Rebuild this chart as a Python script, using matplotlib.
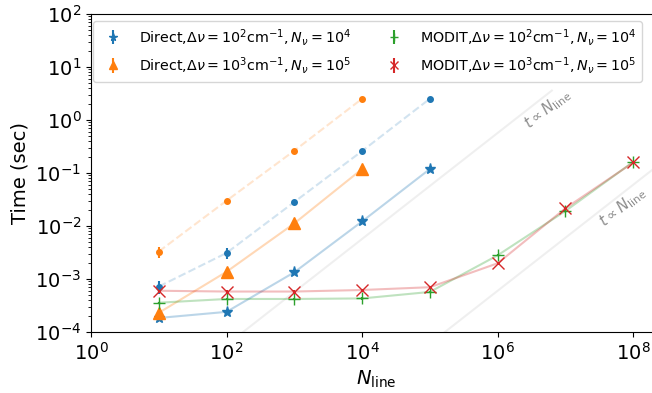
import numpy as np
import matplotlib.pyplot as plt

nline = [1e1, 1e2, 1e3, 1e4, 1e5, 1e6, 1e7, 1e8]

# direct, dnu=1e2 (N_nu=1e4): stars = precomputed, dots = full
direct2 = [1.84e-4, 2.4e-4, 1.34e-3, 1.22e-2, 0.119]
direct2_all = [7.2e-4, 3.1e-3, 2.84e-2, 0.26, 2.52]
direct2_all_err = [2.0e-4, 7.0e-4, 1.0e-3, 5.0e-3, 2.0e-2]
# direct, dnu=1e3 (N_nu=1e5)
direct3 = [2.3e-4, 1.37e-3, 1.12e-2, 0.119]
direct3_all = [3.3e-3, 3.0e-2, 0.264, 2.52]
direct3_all_err = [8.0e-4, 1.0e-3, 3.0e-3, 2.0e-2]
# modit
modit2 = [3.57e-4, 4.2e-4, 4.2e-4, 4.3e-4, 5.7e-4, 2.8e-3, 1.92e-2, 0.162]
modit3 = [6.0e-4, 5.8e-4, 5.8e-4, 6.2e-4, 7.0e-4, 1.98e-3, 2.16e-2, 0.158]

lab_d2 = r"Direct,$\Delta \nu=10^2 {\rm cm}^{-1}, N_\nu=10^4$"
lab_d3 = r"Direct,$\Delta \nu=10^3 {\rm cm}^{-1}, N_\nu=10^5$"
lab_m2 = r"MODIT,$\Delta \nu=10^2 {\rm cm}^{-1}, N_\nu=10^4$"
lab_m3 = r"MODIT,$\Delta \nu=10^3 {\rm cm}^{-1}, N_\nu=10^5$"

fig = plt.figure(figsize=(6.52, 3.93), dpi=100)
ax = fig.add_axes([91/652, 61/393, 570/652, 318/393])

# reference slopes t ~ N_line
nref1 = np.array([1.0, 6.3e6])
nref2 = np.array([1.0, 3e8])
ax.plot(nref1, 5.7e-7*nref1, color="gray", alpha=0.12, lw=1.5)
ax.plot(nref2, 6.0e-10*nref2, color="gray", alpha=0.12, lw=1.5)
ax.text(5.4e6, 1.6, r"$t \propto N_{\rm line}$", color="gray", rotation=38,
        fontsize=10.8, ha="center", va="center", alpha=0.9)
ax.text(6.9e7, 0.023, r"$t \propto N_{\rm line}$", color="gray", rotation=38,
        fontsize=10.8, ha="center", va="center", alpha=0.9)

x2 = nline[:5]
x3 = nline[:4]
ax.plot(x2, direct2_all, ls="--", color="C0", alpha=0.2, lw=1.5)
ax.errorbar(x2, direct2_all, yerr=direct2_all_err, fmt="o", color="C0", ms=4)
ax.plot(x3, direct3_all, ls="--", color="C1", alpha=0.2, lw=1.5)
ax.errorbar(x3, direct3_all, yerr=direct3_all_err, fmt="o", color="C1", ms=4)

ax.plot(x2, direct2, color="C0", alpha=0.3, lw=1.5)
ax.errorbar(x2, direct2, yerr=[v*0.05 for v in direct2], fmt="*", color="C0",
            ms=8, label=lab_d2)
ax.plot(x3, direct3, color="C1", alpha=0.3, lw=1.5)
ax.errorbar(x3, direct3, yerr=[v*0.05 for v in direct3], fmt="^", color="C1",
            ms=8, label=lab_d3)
ax.plot(nline, modit2, color="C2", alpha=0.3, lw=1.5)
ax.errorbar(nline, modit2, yerr=[v*0.05 for v in modit2], fmt="+", color="C2",
            ms=9, label=lab_m2)
ax.plot(nline, modit3, color="C3", alpha=0.3, lw=1.5)
ax.errorbar(nline, modit3, yerr=[v*0.05 for v in modit3], fmt="x", color="C3",
            ms=8, label=lab_m3)

ax.set_xscale("log")
ax.set_yscale("log")
ax.set_xlim(1, 10**8.41)
ax.set_ylim(1e-4, 1e2)
ax.xaxis.set_major_locator(plt.FixedLocator([1e0, 1e2, 1e4, 1e6, 1e8]))
ax.xaxis.set_minor_locator(plt.NullLocator())
ax.tick_params(labelsize=14)
ax.set_xlabel(r"$N_{\rm line}$", fontsize=14)
ax.set_ylabel("Time (sec)", fontsize=14)
ax.legend(ncol=2, loc="upper left", fontsize=10.3, markerscale=0.7,
          bbox_to_anchor=(2/570, 1-7/318), borderaxespad=0,
          columnspacing=2.0, handletextpad=0.8)

plt.savefig("out.png", dpi=100)
